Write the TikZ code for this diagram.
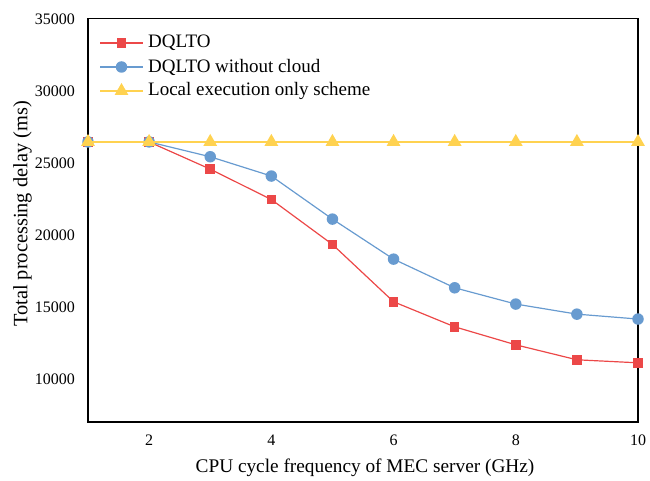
\documentclass[tikz,border=0pt]{standalone}
\usepackage{fontspec}
\setmainfont{Liberation Serif}
\usetikzlibrary{shapes.geometric,calc}

\definecolor{serred}{RGB}{236,72,72}
\definecolor{serblue}{RGB}{104,155,208}
\definecolor{seryel}{RGB}{255,210,80}

\tikzset{
  frame/.style={line width=1.3pt, black},
  tick/.style={font=\fontsize{16}{18}\selectfont, inner sep=0pt},
  axislabel/.style={font=\fontsize{19.3}{22}\selectfont, inner sep=0pt},
  vaxislabel/.style={font=\fontsize{20.4}{23}\selectfont, inner sep=0pt, rotate=90},
  legendtext/.style={font=\fontsize{19}{22}\selectfont, inner sep=0pt, anchor=west},
  redline/.style={serred, line width=1.2pt, line join=round},
  blueline/.style={serblue, line width=1.2pt, line join=round},
  yelline/.style={seryel, line width=1.2pt, line join=round},
  sqmark/.style={rectangle, fill=serred, draw=none, minimum size=9.5pt, inner sep=0pt},
  circmark/.style={circle, fill=serblue, draw=none, minimum size=11.5pt, inner sep=0pt},
  trimark/.style={regular polygon, regular polygon sides=3, fill=seryel, draw=none,
                  minimum size=16pt, inner sep=0pt},
}

\begin{document}
\begin{tikzpicture}[x=1pt, y=1pt]
\useasboundingbox (0,0) rectangle (650,480);

% data scope: x = CPU frequency (GHz), y = delay in thousands of ms
\begin{scope}[x=61.111pt, y=14.4pt, shift={(26.889pt,-42.8pt)}]
  \draw[frame] (1,7) rectangle (10,35);

  % y tick labels
  \foreach \v in {10,15,...,35}
    \node[tick, anchor=east] (yt\v) at ([xshift=-13pt]1,\v) {\v000};
  % x tick labels
  \foreach \u in {2,4,...,10}
    \node[tick] (xt\u) at ([yshift=-18pt]\u,7) {\u};

  % series data points
  \foreach \v [count=\i] in {26.45,26.45,24.56,22.45,19.33,15.35,13.61,12.36,11.32,11.11}
    \coordinate (r\i) at (\i,\v);
  \foreach \v [count=\i] in {26.45,26.45,25.42,24.08,21.09,18.31,16.32,15.19,14.49,14.15}
    \coordinate (b\i) at (\i,\v);
  \foreach \v [count=\i] in {26.45,26.45,26.45,26.45,26.45,26.45,26.45,26.45,26.45,26.45}
    \coordinate (l\i) at (\i,\v);
\end{scope}

% DQLTO
\draw[redline] (r1) \foreach \i in {2,...,10}{ -- (r\i)};
\foreach \i in {1,...,10} \node[sqmark] (mr\i) at (r\i) {};
% DQLTO without cloud
\draw[blueline] (b1) \foreach \i in {2,...,10}{ -- (b\i)};
\foreach \i in {1,...,10} \node[circmark] (mb\i) at (b\i) {};
% local execution only
\draw[yelline] (l1) \foreach \i in {2,...,10}{ -- (l\i)};
\foreach \i in {1,...,10} \node[trimark] (ml\i) at (l\i) {};

% axis titles
\node[axislabel] (xlab) at (365,12) {CPU cycle frequency of MEC server (GHz)};
\node[vaxislabel] (ylab) at (22.5,266) {Total processing delay (ms)};

% legend
\coordinate (lga1) at (100,437); \coordinate (lgb1) at (143,437);
\coordinate (lga2) at (100,413); \coordinate (lgb2) at (143,413);
\coordinate (lga3) at (100,389); \coordinate (lgb3) at (143,389);
\draw[redline] (lga1) -- (lgb1);
\node[sqmark] (lgm1) at ($(lga1)!0.5!(lgb1)$) {};
\draw[blueline] (lga2) -- (lgb2);
\node[circmark] (lgm2) at ($(lga2)!0.5!(lgb2)$) {};
\draw[yelline] (lga3) -- (lgb3);
\node[trimark] (lgm3) at ($(lga3)!0.5!(lgb3)$) {};
\node[legendtext] (lgt1) at (148,437) {DQLTO};
\node[legendtext] (lgt2) at (148,413) {DQLTO without cloud};
\node[legendtext] (lgt3) at (148,389) {Local execution only scheme};
\end{tikzpicture}
\end{document}
